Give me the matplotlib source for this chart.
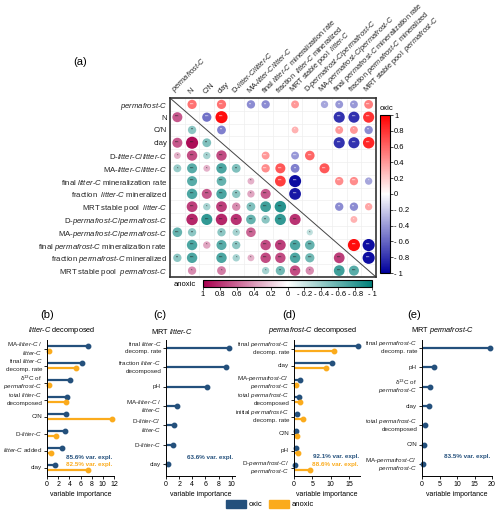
import numpy as np
import matplotlib
matplotlib.use("Agg")
import matplotlib.pyplot as plt
from matplotlib.colors import LinearSegmentedColormap, Normalize
from matplotlib.cm import ScalarMappable
from matplotlib.patches import Patch
from matplotlib.transforms import blended_transform_factory, offset_copy

plt.rcParams["font.family"] = ["Liberation Sans", "DejaVu Sans"]
plt.rcParams["mathtext.fontset"] = "custom"
plt.rcParams["mathtext.it"] = "Liberation Sans:italic"
plt.rcParams["mathtext.rm"] = "Liberation Sans"
plt.rcParams["mathtext.bf"] = "Liberation Sans:bold"

# ---- data: correlation matrix (a) ----
variables = ["permafrost-C", "N", "C/N", "clay", "D-litter-C/litter-C", "MA-litter-C/litter-C",
             "final litter-C mineralization rate", "fraction  litter-C mineralized",
             "MRT stable pool  litter-C", "D-permafrost-C/permafrost-C",
             "MA-permafrost-C/permafrost-C", "final permafrost-C mineralization rate",
             "fraction permafrost-C mineralized", "MRT stable pool  permafrost-C"]

# (row, col, r, stars) upper triangle = oxic
oxic_cells = [
    (0, 1, 0.55, "***"), (0, 3, 0.55, "***"), (0, 5, -0.45, "**"), (0, 6, -0.45, "**"),
    (0, 8, 0.4, "*"), (0, 10, -0.35, "*"), (0, 11, -0.4, "**"), (0, 12, -0.4, "**"), (0, 13, 0.5, "***"),
    (1, 2, -0.55, "***"), (1, 3, 0.95, "***"), (1, 11, -0.8, "***"), (1, 12, -0.8, "***"), (1, 13, 0.8, "***"),
    (2, 3, -0.5, "**"), (2, 8, 0.3, "*"), (2, 11, 0.4, "**"), (2, 12, 0.4, "*"), (2, 13, -0.45, "**"),
    (3, 11, -0.8, "***"), (3, 12, -0.8, "***"), (3, 13, 0.85, "***"),
    (4, 6, 0.4, "***"), (4, 8, -0.4, "***"), (4, 9, 0.6, "***"),
    (5, 6, 0.45, "***"), (5, 7, 0.65, "***"), (5, 8, -0.5, "**"), (5, 10, 0.65, "***"),
    (6, 7, 0.75, "***"), (6, 8, -0.95, "***"), (6, 11, 0.45, "***"), (6, 12, 0.45, "***"), (6, 13, -0.35, "*"),
    (7, 8, -0.9, "***"),
    (8, 11, -0.45, "**"), (8, 12, -0.45, "**"), (8, 13, 0.35, "*"),
    (9, 12, 0.3, "*"),
    (11, 12, 0.95, "***"), (11, 13, -0.95, "***"),
    (12, 13, -0.95, "***"),
]

# lower triangle = anoxic
anoxic_cells = [
    (1, 0, 0.65, "***"),
    (2, 1, -0.45, "**"),
    (3, 0, 0.65, "***"), (3, 1, 0.95, "***"), (3, 2, -0.5, "**"),
    (4, 0, 0.3, "*"), (4, 1, 0.7, "***"), (4, 2, -0.35, "*"), (4, 3, 0.7, "***"),
    (5, 0, -0.4, "*"), (5, 1, -0.65, "***"), (5, 2, 0.3, "*"), (5, 3, -0.7, "***"), (5, 4, -0.5, "**"),
    (6, 1, -0.65, "***"), (6, 3, -0.6, "***"), (6, 5, 0.3, "*"),
    (7, 1, -0.7, "***"), (7, 2, 0.65, "***"), (7, 3, -0.7, "***"), (7, 4, -0.45, "**"),
    (7, 5, 0.35, "*"), (7, 6, 0.65, "***"),
    (8, 1, 0.75, "***"), (8, 2, -0.35, "*"), (8, 3, 0.75, "***"), (8, 4, 0.45, "*"),
    (8, 5, -0.5, "**"), (8, 6, -0.75, "***"), (8, 7, -0.85, "***"),
    (9, 1, 0.85, "***"), (9, 2, -0.8, "***"), (9, 3, 0.85, "***"), (9, 4, 0.8, "***"),
    (9, 5, -0.6, "***"), (9, 6, -0.45, "**"), (9, 7, -0.8, "***"), (9, 8, 0.8, "***"),
    (10, 0, -0.6, "***"), (10, 1, -0.45, "**"), (10, 3, -0.45, "**"), (10, 4, -0.35, "*"),
    (10, 5, 0.6, "***"), (10, 9, -0.25, "*"),
    (11, 1, -0.7, "***"), (11, 2, 0.35, "*"), (11, 3, -0.65, "***"), (11, 4, -0.45, "**"),
    (11, 6, 0.7, "***"), (11, 7, 0.75, "***"), (11, 8, -0.7, "***"), (11, 9, -0.6, "***"),
    (12, 0, -0.45, "**"), (12, 1, -0.7, "***"), (12, 3, -0.7, "***"), (12, 4, -0.35, "*"),
    (12, 5, 0.3, "*"), (12, 6, 0.7, "***"), (12, 7, 0.7, "***"), (12, 8, -0.7, "***"),
    (12, 9, -0.55, "***"), (12, 11, 0.75, "***"),
    (13, 1, 0.45, "*"), (13, 3, 0.5, "*"), (13, 6, -0.35, "*"), (13, 7, -0.55, "**"),
    (13, 8, 0.7, "***"), (13, 9, 0.45, "*"), (13, 11, -0.75, "***"), (13, 12, -0.65, "***"),
]

cbar_ticks = [1, 0.8, 0.6, 0.4, 0.2, 0, -0.2, -0.4, -0.6, -0.8, -1]
cbar_labels = ["1", "0.8", "0.6", "0.4", "0.2", "0", "- 0.2", "- 0.4", "- 0.6", "- 0.8", "- 1"]

# ---- data: variable importance panels ----
b_labels = ["MA-litter-C /\nlitter-C", "final litter-C\ndecomp. rate", "δ$^{13}$C of\npermafrost-C",
            "total litter-C\ndecomposed", "C/N", "D-litter-C", "litter-C added", "clay"]
b_oxic = [7.3, 6.3, 4.2, 3.5, 3.4, 3.2, 2.6, 1.4]
b_anoxic = [0.4, 5.2, 0.4, 3.4, 11.6, 1.6, 0.7, 7.4]

c_labels = ["final litter-C\ndecomp. rate", "fraction litter-C\ndecomposed", "pH",
            "MA-litter-C /\nlitter-C", "D-litter-C/\nlitter-C", "D-litter-C", "clay"]
c_oxic = [9.6, 9.1, 6.2, 1.7, 1.2, 1.0, 0.35]

d_labels = ["final permafrost-C\ndecomp. rate", "clay", "MA-permafrost-C/\npermafrost-C",
            "total permafrost-C\ndecomposed", "initial permafrost-C\ndecomp. rate", "C/N", "pH",
            "D-permafrost-C/\npermafrost-C"]
d_oxic = [17.5, 10.3, 1.7, 1.4, 0.8, 0.6, 0.45, 0.2]
d_anoxic = [11.0, 8.6, 0.6, 1.5, 2.5, 0.9, 1.0, 4.3]

e_labels = ["final permafrost-C\ndecomp. rate", "pH", "δ$^{13}$C of\npermafrost-C", "clay",
            "total permafrost-C\ndecomposed", "C/N", "MA-permafrost-C/\npermafrost-C"]
e_oxic = [19.3, 3.4, 2.3, 2.0, 0.9, 0.7, 0.3]

BLUE = "#24507c"
ORANGE = "#fbab1c"
W, H = 500, 514

cmap_ox = LinearSegmentedColormap.from_list("ox", ["#00009c", "#ffffff", "#ff0000"])
cmap_an = LinearSegmentedColormap.from_list("an", ["#00807a", "#ffffff", "#a8004f"])
norm = Normalize(-1, 1)


def it(s):
    # italicise litter-C / permafrost-C
    for w in ["permafrost-C", "litter-C"]:
        s = s.replace(w, r"$\mathit{" + w.split("-")[0] + r"}$-$\mathit{C}$")
    return s


fig = plt.figure(figsize=(W / 100, H / 100), dpi=100)


def px_axes(x0, y0, x1, y1):
    return fig.add_axes([x0 / W, 1 - y1 / H, (x1 - x0) / W, (y1 - y0) / H])


# ---- (a) correlation matrix ----
ax = px_axes(170, 98, 376, 277)
n = len(variables)
ax.set_xlim(-0.5, n - 0.5)
ax.set_ylim(n - 0.5, -0.5)
ax.set_xticks(np.arange(-0.5, n, 1), minor=True)
ax.set_yticks(np.arange(-0.5, n, 1), minor=True)
ax.grid(which="minor", color="#eeeeee", lw=0.5)
ax.set_axisbelow(True)
ax.set_xticks(range(n))
ax.set_xticklabels([it(v) for v in variables], rotation=45, ha="left", va="bottom",
                   rotation_mode="anchor", fontsize=5.3, color="#222")
ax.xaxis.tick_top()
ax.set_yticks(range(n))
ax.set_yticklabels([it(v) for v in variables], fontsize=5.55, color="#222")
ax.tick_params(which="both", length=0, pad=2)
for sp in ax.spines.values():
    sp.set_linewidth(1.2)
    sp.set_color("#333")
ax.plot([-0.5, n - 0.5], [-0.5, n - 0.5], color="#444", lw=0.7, zorder=1)

for cells, cmap, star_col in [(oxic_cells, cmap_ox, "white"), (anoxic_cells, cmap_an, "#222")]:
    rows = [c[0] for c in cells]
    cols = [c[1] for c in cells]
    vals = np.array([c[2] for c in cells])
    ax.scatter(cols, rows, s=80 * np.abs(vals), c=cmap(norm(vals)), edgecolors="none", zorder=2)
    for r, c, v, st in cells:
        ax.text(c, r, st, ha="center", va="center", fontsize=2.8, color=star_col, zorder=3)

# oxic colorbar
cax = px_axes(380, 115, 390, 273)
cb = fig.colorbar(ScalarMappable(norm=norm, cmap=cmap_ox), cax=cax)
cb.set_ticks(cbar_ticks)
cb.set_ticklabels(cbar_labels)
cax.tick_params(labelsize=5.5, length=2, width=0.5, pad=1)
cb.outline.set_linewidth(0.8)
fig.text(386 / W, 1 - 109 / H, "oxic", ha="center", va="center", fontsize=5.5)

# anoxic colorbar
cax2 = px_axes(203, 280, 372, 287)
cb2 = fig.colorbar(ScalarMappable(norm=norm, cmap=cmap_an), cax=cax2, orientation="horizontal")
cax2.invert_xaxis()
cb2.set_ticks(cbar_ticks)
cb2.set_ticklabels(cbar_labels)
cax2.tick_params(labelsize=5.5, length=2, width=0.5, pad=1)
cb2.outline.set_linewidth(0.8)
fig.text(185 / W, 1 - 284 / H, "anoxic", ha="center", va="center", fontsize=5.5)

fig.text(80 / W, 1 - 62 / H, "(a)", ha="center", va="center", fontsize=8)


# ---- (b)-(e) variable importance ----
def lolli(box, labels, oxic, anoxic, xlim, xticks, ylim, texts):
    a = px_axes(*box)
    y = np.arange(len(labels))
    off = 0.14 if anoxic is not None else 0
    a.hlines(y - off, 0, oxic, color=BLUE, lw=1.6)
    a.plot(oxic, y - off, "o", color=BLUE, ms=3.2, clip_on=False)
    if anoxic is not None:
        a.hlines(y + off, 0, anoxic, color=ORANGE, lw=1.6)
        a.plot(anoxic, y + off, "o", color=ORANGE, ms=3.2, clip_on=False)
    a.set_yticks(y)
    a.set_yticklabels([])
    # two-line labels placed line by line (mathtext spreads multi-line labels)
    base = blended_transform_factory(a.transAxes, a.transData)
    for i, lab in enumerate(labels):
        lines = lab.split("\n")
        k = len(lines)
        for j, line in enumerate(lines):
            dy = ((k - 1) / 2 - j) * 6.0
            tr = offset_copy(base, fig=fig, x=-3.5, y=dy, units="points")
            a.text(0, i, it(line), transform=tr, ha="right", va="center",
                   fontsize=4.5, color="#222")
    a.set_xlim(*xlim)
    a.set_xticks(xticks)
    a.set_ylim(*ylim)
    a.tick_params(labelsize=5, length=2, width=0.6, pad=1.5)
    a.spines[["top", "right"]].set_visible(False)
    for sp in ["left", "bottom"]:
        a.spines[sp].set_linewidth(0.7)
    a.set_xlabel("variable importance", fontsize=5, labelpad=2)
    for txt, col, yy in texts:
        a.text(0.98, yy, txt, transform=a.transAxes, ha="right", va="center",
               fontsize=4.5, color=col, fontweight="bold")
    return a


lolli((47, 340, 114, 476), b_labels, b_oxic, b_anoxic, (0, 12), range(0, 13, 2), (7.5, -0.5),
      [("85.6% var. expl.", BLUE, 0.135), ("82.5% var. expl.", ORANGE, 0.088)])
lolli((166, 340, 235, 476), c_labels, c_oxic, None, (0, 10.5), range(0, 11, 2), (6.6, -0.4),
      [("63.6% var. expl.", BLUE, 0.135)])
lolli((294, 340, 360, 476), d_labels, d_oxic, d_anoxic, (0, 18), [0, 5, 10, 15], (7.5, -0.5),
      [("92.1% var. expl.", BLUE, 0.14), ("88.6% var. expl.", ORANGE, 0.088)])
lolli((422, 340, 492, 476), e_labels, e_oxic, None, (0, 20), [0, 5, 10, 15, 20], (6.6, -0.4),
      [("83.5% var. expl.", BLUE, 0.145)])

panel_titles = [("(b)", 47, it("litter-C decomposed"), 62),
                ("(c)", 160, it("MRT litter-C"), 172),
                ("(d)", 289, it("permafrost-C decomposed"), 312),
                ("(e)", 414, it("MRT permafrost-C"), 443)]
for lab, xl, sub, xs in panel_titles:
    fig.text(xl / W, 1 - 315 / H, lab, ha="center", va="center", fontsize=8)
    fig.text(xs / W, 1 - 331 / H, sub, ha="center", va="center", fontsize=5.3)

handles = [Patch(color=BLUE), Patch(color=ORANGE)]
fig.legend(handles, ["oxic", "anoxic"], loc="center", bbox_to_anchor=(270 / W, 1 - 504 / H),
           ncol=2, frameon=False, fontsize=5.5, handlelength=2.6, handleheight=1.3,
           columnspacing=0.8, handletextpad=0.4)

fig.savefig("out.png", dpi=100)
